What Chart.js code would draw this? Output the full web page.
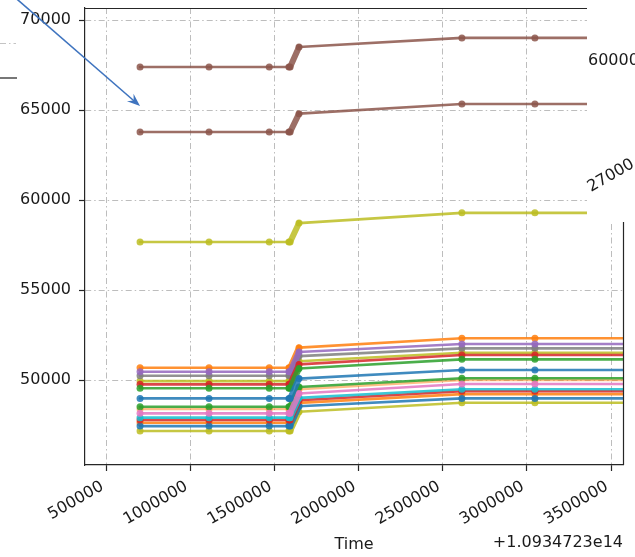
<!DOCTYPE html>
<html>
<head>
<meta charset="utf-8">
<script src="https://cdn.jsdelivr.net/npm/chart.js@4/dist/chart.umd.min.js"></script>
<style>
  html, body { margin: 0; padding: 0; background: #ffffff; }
  #wrap { width: 635px; height: 557px; }
</style>
</head>
<body>
<div id="wrap"><canvas id="c" width="635" height="557"></canvas></div>
<script>
// Sample times (offset from +1.0934723e14)
const sampleTimes = [700000, 1110000, 1468000, 1585000, 1592000, 1645000, 2613000, 3047000, 3650000];

// Axis ticks
const xTicks = [500000, 1000000, 1500000, 2000000, 2500000, 3000000, 3500000];
const yTicks = [50000, 55000, 60000, 65000, 70000];

// Series values, one value per sample time
const brownA  = [67390, 67390, 67390, 67390, 67390, 68500, 69010, 69010, 69010];
const brownB  = [63780, 63780, 63780, 63780, 63780, 64800, 65340, 65340, 65340];
const oliveTop = [57670, 57670, 57670, 57670, 57670, 58720, 59290, 59290, 59290];
const orangeA = [50680, 50680, 50680, 50680, 50680, 51800, 52320, 52320, 52320];
const purpleA = [50460, 50460, 50460, 50460, 50460, 51560, 52000, 52000, 52000];
const grayA   = [50240, 50240, 50240, 50240, 50240, 51330, 51760, 51760, 51760];
const oliveA  = [49940, 49940, 49940, 49940, 49940, 51040, 51520, 51520, 51520];
const redA    = [49760, 49760, 49760, 49760, 49760, 50870, 51390, 51390, 51390];
const greenA  = [49540, 49540, 49540, 49540, 49540, 50640, 51150, 51150, 51150];
const blueA   = [48980, 48980, 48980, 48980, 48980, 50080, 50560, 50560, 50560];
const greenB  = [48520, 48520, 48520, 48520, 48520, 49610, 50100, 50100, 50100];
const orangeC = [48390, 48390, 48390, 48390, 48390, 49490, 50000, 50000, 50000];
const pinkA   = [48150, 48150, 48150, 48150, 48150, 49250, 49780, 49780, 49780];
const cyanA   = [47910, 47910, 47910, 47910, 47910, 49010, 49490, 49490, 49490];
const redB    = [47780, 47780, 47780, 47780, 47780, 48880, 49380, 49380, 49380];
const orangeB = [47630, 47630, 47630, 47630, 47630, 48730, 49220, 49220, 49220];
const blueB   = [47440, 47440, 47440, 47440, 47440, 48540, 48980, 48980, 48980];
const oliveB  = [47170, 47170, 47170, 47170, 47170, 48240, 48740, 48740, 48740];

// Annotation arrow target (time, value)
const arrowTarget = [700000, 65220];

const palette = {
  blue: '31,119,180', orange: '255,127,14', green: '44,160,44', red: '214,39,40',
  purple: '148,103,189', brown: '140,86,75', pink: '227,119,194', gray: '127,127,127',
  olive: '188,189,34', cyan: '23,190,207'
};

const seriesList = [
  [blueA, 'blue', 0.85], [greenA, 'green', 0.85], [redA, 'red', 0.85], [purpleA, 'purple', 0.85],
  [brownA, 'brown', 0.85], [pinkA, 'pink', 0.85], [grayA, 'gray', 0.85], [cyanA, 'cyan', 0.85],
  [greenB, 'green', 0.85], [redB, 'red', 0.85], [brownB, 'brown', 0.85], [orangeC, 'orange', 0.5],
  [orangeA, 'orange', 0.85], [blueB, 'blue', 0.85], [oliveTop, 'olive', 0.85], [oliveB, 'olive', 0.85],
  [orangeB, 'orange', 0.85], [oliveA, 'olive', 0.85]
];

const datasets = seriesList.map(([vals, name, alpha]) => {
  const col = 'rgba(' + palette[name] + ',' + alpha + ')';
  return {
    data: sampleTimes.map((t, i) => ({ x: t, y: vals[i] })),
    borderColor: col,
    backgroundColor: col,
    pointBackgroundColor: col,
    pointBorderWidth: 0,
    pointRadius: 3.5,
    borderWidth: 2.6,
    borderCapStyle: 'round',
    borderJoinStyle: 'round',
    tension: 0,
    segment: {
      borderWidth: ctx => (ctx.p0DataIndex === 3 || ctx.p0DataIndex === 4) ? 6 : 2.6
    }
  };
});

const decorations = {
  id: 'decorations',
  afterDraw(chart) {
    const { ctx, chartArea: a, scales: { x, y } } = chart;
    ctx.save();

    // axes frame, top and right sides
    ctx.strokeStyle = '#262626';
    ctx.lineWidth = 1.2;
    ctx.beginPath();
    ctx.moveTo(a.left, a.top + 0.5);
    ctx.lineTo(a.right + 0.5, a.top + 0.5);
    ctx.lineTo(a.right + 0.5, a.bottom);
    ctx.stroke();

    // annotation arrow
    const tx = x.getPixelForValue(arrowTarget[0]);
    const ty = y.getPixelForValue(arrowTarget[1]);
    const dx = -122, dy = -106;
    const len = Math.hypot(dx, dy);
    const ux = dx / len, uy = dy / len;
    const headLen = 13, headHalf = 5;
    ctx.strokeStyle = '#3f74bf';
    ctx.fillStyle = '#3f74bf';
    ctx.lineWidth = 1.6;
    ctx.beginPath();
    ctx.moveTo(tx + dx * 1.3, ty + dy * 1.3);
    ctx.lineTo(tx + ux * headLen * 0.6, ty + uy * headLen * 0.6);
    ctx.stroke();
    const bx = tx + ux * headLen, by = ty + uy * headLen;
    const px = -uy, py = ux;
    ctx.beginPath();
    ctx.moveTo(tx, ty);
    ctx.lineTo(bx + px * headHalf, by + py * headHalf);
    ctx.lineTo(tx + ux * headLen * 0.65, ty + uy * headLen * 0.65);
    ctx.lineTo(bx - px * headHalf, by - py * headHalf);
    ctx.closePath();
    ctx.fill();

    // neighbouring panel edge on the left
    ctx.setLineDash([6, 3, 1.5, 3]);
    ctx.strokeStyle = '#c4c4c4';
    ctx.lineWidth = 1;
    ctx.beginPath(); ctx.moveTo(0, 43.5); ctx.lineTo(16, 43.5); ctx.stroke();
    ctx.setLineDash([]);
    ctx.strokeStyle = '#4a4a4a';
    ctx.lineWidth = 1.5;
    ctx.beginPath(); ctx.moveTo(0, 78); ctx.lineTo(17, 78); ctx.stroke();

    // neighbouring panel on the upper right
    ctx.fillStyle = '#ffffff';
    ctx.fillRect(587, 0, 48, 222);
    ctx.fillStyle = '#1a1a1a';
    ctx.font = '16px "DejaVu Sans"';
    ctx.textAlign = 'left';
    ctx.textBaseline = 'middle';
    ctx.fillText('60000', 588, 61);
    ctx.save();
    ctx.translate(591, 192);
    ctx.rotate(-Math.PI / 6);
    ctx.textBaseline = 'alphabetic';
    ctx.fillText('27000', 0, 0);
    ctx.restore();

    // offset text of the time axis
    ctx.textAlign = 'right';
    ctx.textBaseline = 'middle';
    ctx.fillText('+1.0934723e14', a.right, 543);

    ctx.restore();
  }
};

Chart.defaults.font.family = '"DejaVu Sans", sans-serif';
Chart.defaults.font.size = 16;
Chart.defaults.color = '#1a1a1a';

const gridStyle = {
  color: '#bdbdbd',
  lineWidth: 1,
  tickColor: '#262626',
  tickWidth: 1.2,
  tickBorderDash: [],
  tickLength: 6,
  drawTicks: true
};
const borderStyle = { display: true, color: '#262626', width: 1.2, dash: [6, 3, 1.5, 3] };

new Chart(document.getElementById('c'), {
  type: 'line',
  data: { datasets },
  options: {
    responsive: false,
    animation: false,
    devicePixelRatio: 1,
    layout: { padding: { top: 8, right: 12, left: 0, bottom: 0 } },
    plugins: { legend: { display: false }, tooltip: { enabled: false } },
    scales: {
      x: {
        type: 'linear',
        min: 372800,
        max: 3570700,
        grid: gridStyle,
        border: borderStyle,
        afterBuildTicks: s => { s.ticks = xTicks.map(v => ({ value: v })); },
        afterFit: s => { s.height = 92; s.paddingLeft = 0; s.paddingRight = 0; },
        ticks: {
          autoSkip: false, maxRotation: 30, minRotation: 30, padding: 6, labelOffset: -4,
          callback: v => String(v)
        },
        title: { display: true, text: 'Time', padding: { top: 0, bottom: 3 } }
      },
      y: {
        type: 'linear',
        min: 45280,
        max: 70670,
        grid: gridStyle,
        border: borderStyle,
        afterBuildTicks: s => { s.ticks = yTicks.map(v => ({ value: v })); },
        afterFit: s => { s.width = 85; s.paddingTop = 0; s.paddingBottom = 0; },
        ticks: { padding: 8, callback: v => String(v) }
      }
    }
  },
  plugins: [decorations]
});
</script>
</body>
</html>
